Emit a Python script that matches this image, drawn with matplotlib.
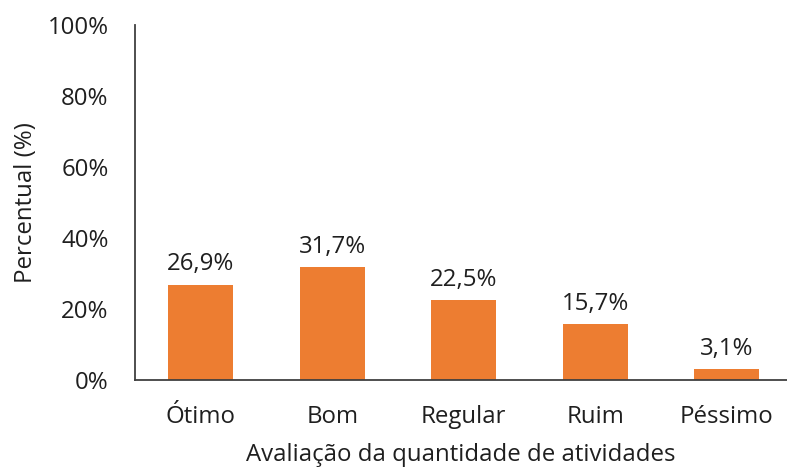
import matplotlib.pyplot as plt
import numpy as np
from matplotlib.ticker import FuncFormatter

plt.rcParams['font.family'] = ['Open Sans', 'DejaVu Sans']

categorias = ['Ótimo', 'Bom', 'Regular', 'Ruim', 'Péssimo']
valores = [26.9, 31.7, 22.5, 15.7, 3.1]
rotulos = ['26,9%', '31,7%', '22,5%', '15,7%', '3,1%']

fs = 17.3
cor_txt = '#1f1f1f'

fig = plt.figure(figsize=(7.87, 4.68), dpi=100)
ax = fig.add_axes([135 / 787, 88 / 468, 652 / 787, 355 / 468])

x = np.arange(len(categorias))
bars = ax.bar(x, valores, width=0.494, color='#ED7D31')

for b, r in zip(bars, rotulos):
    ax.annotate(r, (b.get_x() + b.get_width() / 2, b.get_height()),
                xytext=(0, 6), textcoords='offset points',
                ha='center', va='bottom', fontsize=fs, color=cor_txt)

ax.set_xlim(-0.5, -0.5 + 652 / 131.5)
ax.set_ylim(0, 100)
ax.set_yticks(np.arange(0, 101, 20))
ax.yaxis.set_major_formatter(FuncFormatter(lambda v, p: f'{v:.0f}%'))
ax.set_xticks(x)
ax.set_xticklabels(categorias)

ax.tick_params(axis='both', length=0, labelsize=fs, colors=cor_txt)
ax.tick_params(axis='x', pad=18)
ax.tick_params(axis='y', pad=19)

for s in ['top', 'right']:
    ax.spines[s].set_visible(False)
for s in ['left', 'bottom']:
    ax.spines[s].set_color('#404040')
    ax.spines[s].set_linewidth(1.3)

ax.set_ylabel('Percentual (%)', fontsize=fs, color=cor_txt, labelpad=7)
# the reference crops this label at the bottom; kept just inside the frame here
ax.set_xlabel('Avaliação da quantidade de atividades', fontsize=fs, color=cor_txt, labelpad=10)

fig.savefig('out.png', dpi=100)
